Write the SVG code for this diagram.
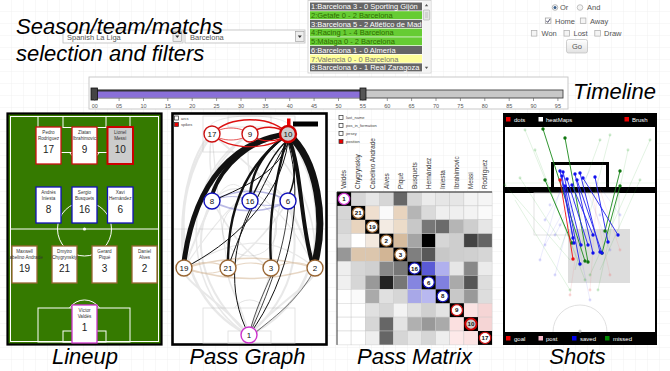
<svg xmlns="http://www.w3.org/2000/svg" width="670" height="371" viewBox="0 0 670 371">
<defs>
<pattern id="grid" width="12" height="12" patternUnits="userSpaceOnUse"><path d="M12 0V12H0" fill="none" stroke="#eeeeee" stroke-width="0.8"/></pattern>
<clipPath id="lbclip"><rect x="309" y="1" width="113" height="71"/></clipPath>
<clipPath id="fieldclip"><rect x="9" y="115" width="151" height="228"/></clipPath>
<linearGradient id="btn" x1="0" y1="0" x2="0" y2="1"><stop offset="0" stop-color="#ffffff"/><stop offset="1" stop-color="#e2e2e2"/></linearGradient>
</defs>
<style>
text{font-family:"Liberation Sans",Arial,sans-serif}
.big{font-size:22px;font-style:italic;fill:#000}
.ui{font-size:7.5px;fill:#555}
.li{font-size:7.5px}
.tk{font-size:5.5px;fill:#555;text-anchor:middle}
.fl{fill:none;stroke:#fff;stroke-width:1}
.card{fill:#fff;stroke-width:1.3}
.nm{font-size:4.6px;fill:#333;text-anchor:middle}
.num{font-size:10px;fill:#222;text-anchor:middle}
.pl{fill:none;stroke:#ddd;stroke-width:0.8}
.ga{fill:none;stroke:#999;opacity:0.22}
.bk{fill:none;stroke:#111}
.rd{fill:none;stroke:#d11}
.bl{fill:none;stroke:#7777cc;opacity:0.5}
.br{fill:none;stroke:#c49a6c;opacity:0.4}
.nd{fill:#fff;stroke-width:1.4}
.nn{font-size:8px;fill:#111;text-anchor:middle}
.lg{font-size:4px;fill:#444}
.cl{font-size:6.4px;fill:#333}
.dg{font-size:4.4px;fill:#111;text-anchor:middle;font-weight:bold}
.sl{font-size:6px;fill:#fff}
.sg{stroke:#1a8a1a;stroke-width:0.9}
.sb{stroke:#2222ee;stroke-width:0.9}
.sr{stroke:#ee1111;stroke-width:0.9}
.fg{stroke:#33aa33;stroke-width:0.7;opacity:0.2}
.fb{stroke:#4444ee;stroke-width:0.7;opacity:0.15}
.fp{stroke:#ee7777;stroke-width:0.7;opacity:0.2}
</style>
<rect width="670" height="371" fill="#fff"/>
<rect width="670" height="371" fill="url(#grid)"/>

<g id="selection">
<rect x="63" y="30" width="120" height="13" fill="#fff" stroke="#bbb" stroke-width="0.8"/>
<text x="67" y="39.5" class="ui" font-size="7">Spanish La Liga</text>
<rect x="173" y="31.5" width="8.5" height="10" fill="#eee" stroke="#999" stroke-width="0.6"/>
<path d="M175.3 35.5h4l-2 2.5z" fill="#333"/>
<rect x="185" y="30" width="120" height="13" fill="#fff" stroke="#bbb" stroke-width="0.8"/>
<text x="190" y="39.5" class="ui">Barcelona</text>
<rect x="295.5" y="31.5" width="8.5" height="10" fill="#eee" stroke="#999" stroke-width="0.6"/>
<path d="M297.8 35.5h4l-2 2.5z" fill="#333"/>
<text x="16" y="34" class="big">Season/team/matchs</text>
<text x="16" y="61" class="big">selection and filters</text>
</g>

<g id="matchlist">
<rect x="308" y="0.5" width="123" height="72.5" fill="#fff" stroke="#ccc" stroke-width="0.8"/>
<g clip-path="url(#lbclip)">
<rect x="310" y="2.5" width="112" height="8" fill="#666"/>
<rect x="310" y="11.2" width="112" height="8" fill="#66cc33"/>
<rect x="310" y="19.9" width="112" height="8" fill="#666"/>
<rect x="310" y="28.6" width="112" height="8" fill="#66cc33"/>
<rect x="310" y="37.3" width="112" height="8" fill="#66cc33"/>
<rect x="310" y="46" width="112" height="8" fill="#666"/>
<rect x="310" y="54.7" width="112" height="8" fill="#ffff99"/>
<rect x="310" y="63.4" width="112" height="8" fill="#666"/>
<text x="311" y="9.3" class="li" fill="#fff">1:Barcelona 3 - 0 Sporting Gijón</text>
<text x="311" y="18" class="li" fill="#2f6d00">2:Getafe 0 - 2 Barcelona</text>
<text x="311" y="26.7" class="li" fill="#fff">3:Barcelona 5 - 2 Atlético de Madrid</text>
<text x="311" y="35.4" class="li" fill="#2f6d00">4:Racing 1 - 4 Barcelona</text>
<text x="311" y="44.1" class="li" fill="#2f6d00">5:Málaga 0 - 2 Barcelona</text>
<text x="311" y="52.8" class="li" fill="#fff">6:Barcelona 1 - 0 Almería</text>
<text x="311" y="61.5" class="li" fill="#777">7:Valencia 0 - 0 Barcelona</text>
<text x="311" y="70.2" class="li" fill="#fff">8:Barcelona 6 - 1 Real Zaragoza</text>
</g>
<rect x="422.5" y="1" width="8" height="71.5" fill="#f4f4f4"/>
<path d="M424.8 6.3h3.4l-1.7-2.2z" fill="#555"/>
<rect x="423.3" y="10" width="6.4" height="10" rx="1" fill="#e6e6e6" stroke="#aaa" stroke-width="0.6"/>
<path d="M425 13h3M425 15h3M425 17h3" stroke="#999" stroke-width="0.5"/>
<path d="M424.8 66.8h3.4l-1.7 2.2z" fill="#555"/>
</g>

<g id="filters">
<circle cx="555" cy="7.5" r="2.8" fill="#fff" stroke="#999" stroke-width="0.7"/>
<circle cx="555" cy="7.5" r="1.5" fill="#3a5f8a"/>
<text x="560" y="10" class="ui">Or</text>
<circle cx="580" cy="7.5" r="2.8" fill="#f4f4f4" stroke="#aaa" stroke-width="0.7"/>
<text x="587" y="10" class="ui">And</text>
<rect x="545.3" y="18" width="5.6" height="5.6" fill="#fff" stroke="#999" stroke-width="0.7"/>
<path d="M546.3 20.8l1.4 1.6 2.4-3.4" fill="none" stroke="#335" stroke-width="0.9"/>
<text x="555" y="23.5" class="ui">Home</text>
<rect x="580.3" y="18" width="5.6" height="5.6" fill="#f4f4f4" stroke="#aaa" stroke-width="0.7"/>
<text x="590" y="23.5" class="ui">Away</text>
<rect x="531.3" y="30.5" width="5.6" height="5.6" fill="#f4f4f4" stroke="#aaa" stroke-width="0.7"/>
<text x="541.5" y="36" class="ui">Won</text>
<rect x="564" y="30.5" width="5.6" height="5.6" fill="#f4f4f4" stroke="#aaa" stroke-width="0.7"/>
<text x="573.5" y="36" class="ui">Lost</text>
<rect x="594.8" y="30.5" width="5.6" height="5.6" fill="#f4f4f4" stroke="#aaa" stroke-width="0.7"/>
<text x="604" y="36" class="ui">Draw</text>
<rect x="566.5" y="39.5" width="21" height="13.5" rx="2" fill="url(#btn)" stroke="#bbb" stroke-width="0.7"/>
<text x="577" y="49" class="ui" text-anchor="middle" fill="#444">Go</text>
</g>

<g id="timeline">
<rect x="89" y="77" width="479" height="32" fill="#fff" stroke="#c4c4c4" stroke-width="0.9"/>
<rect x="93" y="90" width="470" height="8" fill="#c8c8c8" stroke="#444" stroke-width="0.9"/>
<rect x="93" y="91" width="270" height="6.6" fill="#8a70d8"/>
<line x1="93" y1="90.6" x2="363" y2="90.6" stroke="#333" stroke-width="1.8"/>
<rect x="91" y="88" width="6.5" height="12" fill="#444" stroke="#111" stroke-width="0.8"/>
<rect x="360" y="88" width="6" height="12" fill="#555" stroke="#111" stroke-width="0.8"/>
<g stroke="#555" stroke-width="0.6">
<path d="M94.7 98v3M119.1 98v3M143.5 98v3M167.8 98v3M192.2 98v3M216.6 98v3M241 98v3M265.4 98v3M289.7 98v3M314.1 98v3M338.5 98v3M362.9 98v3M387.3 98v3M411.6 98v3M436 98v3M460.4 98v3M484.8 98v3M509.2 98v3M533.5 98v3M557.9 98v3"/>
</g>
<text x="94.7" y="107.5" class="tk">00</text><text x="119.1" y="107.5" class="tk">05</text><text x="143.5" y="107.5" class="tk">10</text><text x="167.8" y="107.5" class="tk">15</text><text x="192.2" y="107.5" class="tk">20</text><text x="216.6" y="107.5" class="tk">25</text><text x="241" y="107.5" class="tk">30</text><text x="265.4" y="107.5" class="tk">35</text><text x="289.7" y="107.5" class="tk">40</text><text x="314.1" y="107.5" class="tk">45</text><text x="338.5" y="107.5" class="tk">50</text><text x="362.9" y="107.5" class="tk">55</text><text x="387.3" y="107.5" class="tk">60</text><text x="411.6" y="107.5" class="tk">65</text><text x="436" y="107.5" class="tk">70</text><text x="460.4" y="107.5" class="tk">75</text><text x="484.8" y="107.5" class="tk">80</text><text x="509.2" y="107.5" class="tk">85</text><text x="533.5" y="107.5" class="tk">90</text><text x="557.9" y="107.5" class="tk">95</text>
<text x="573" y="99" class="big">Timeline</text>
</g>

<g id="lineup">
<rect x="7.5" y="113.5" width="154" height="231" fill="#357a00" stroke="#000" stroke-width="2.2"/>
<rect x="10.5" y="116.5" width="148" height="225" class="fl"/>
<rect x="38" y="116.5" width="92" height="36" class="fl"/>
<rect x="63" y="116.5" width="43" height="11" class="fl"/>
<path d="M69.5 152.5A18 18 0 0 0 99.5 152.5" class="fl"/>
<line x1="10.5" y1="229" x2="158.5" y2="229" class="fl"/>
<circle cx="84.5" cy="229" r="27" class="fl"/>
<circle cx="84.5" cy="229" r="1.6" fill="#fff"/>
<rect x="38" y="308" width="92" height="34" class="fl"/>
<rect x="63" y="331" width="43" height="11" class="fl"/>
<path d="M69.5 308A18 18 0 0 1 99.5 308" class="fl"/>
<g id="card17"><rect x="36" y="127" width="25" height="37" class="card" stroke="#cc1111"/><text x="48.5" y="134" class="nm">Pedro</text><text x="48.5" y="140" class="nm">Rodríguez</text><text x="48.5" y="153" class="num">17</text></g>
<g id="card9"><rect x="72" y="127" width="25" height="37" class="card" stroke="#cc1111"/><text x="84.5" y="134" class="nm">Zlatan</text><text x="84.5" y="140" class="nm">Ibrahimovic</text><text x="84.5" y="153" class="num">9</text></g>
<g id="card10"><rect x="107.5" y="127" width="25.5" height="37" fill="#cccccc" stroke="#cc0000" stroke-width="2"/><text x="120.2" y="134" class="nm">Lionel</text><text x="120.2" y="140" class="nm">Messi</text><text x="120.2" y="153" class="num">10</text></g>
<g id="card8"><rect x="36" y="187" width="25" height="36" class="card" stroke="#1111bb"/><text x="48.5" y="194" class="nm">Andrés</text><text x="48.5" y="200" class="nm">Iniesta</text><text x="48.5" y="213" class="num">8</text></g>
<g id="card16"><rect x="72" y="187" width="25" height="36" class="card" stroke="#1111bb"/><text x="84.5" y="194" class="nm">Sergio</text><text x="84.5" y="200" class="nm">Busquets</text><text x="84.5" y="213" class="num">16</text></g>
<g id="card6"><rect x="107.5" y="187" width="25.5" height="36" class="card" stroke="#1111bb"/><text x="120.2" y="194" class="nm">Xavi</text><text x="120.2" y="200" class="nm">Hernández</text><text x="120.2" y="213" class="num">6</text></g>
<g id="card19" clip-path="url(#fieldclip)"><rect x="12" y="246" width="25" height="37" class="card" stroke="#996633"/><text x="24.5" y="253" class="nm">Maxwell</text><text x="24.5" y="259" class="nm">Cabelino Andrade</text><text x="24.5" y="272" class="num">19</text></g>
<g id="card21"><rect x="52" y="246" width="25" height="37" class="card" stroke="#996633"/><text x="64.5" y="253" class="nm">Dmytro</text><text x="64.5" y="259" class="nm">Chygrynskiy</text><text x="64.5" y="272" class="num">21</text></g>
<g id="card3"><rect x="92" y="246" width="25" height="37" class="card" stroke="#996633"/><text x="104.5" y="253" class="nm">Gerard</text><text x="104.5" y="259" class="nm">Piqué</text><text x="104.5" y="272" class="num">3</text></g>
<g id="card2"><rect x="132" y="246" width="25" height="37" class="card" stroke="#996633"/><text x="144.5" y="253" class="nm">Daniel</text><text x="144.5" y="259" class="nm">Alves</text><text x="144.5" y="272" class="num">2</text></g>
<g id="card1"><rect x="72" y="305" width="25" height="38" class="card" stroke="#cc33cc"/><text x="84.5" y="312" class="nm">Víctor</text><text x="84.5" y="318" class="nm">Valdés</text><text x="84.5" y="331" class="num">1</text></g>
<text x="85" y="364" class="big" text-anchor="middle">Lineup</text>
</g>

<g id="passgraph">
<rect x="172.5" y="113.5" width="154" height="231" fill="#fff" stroke="#000" stroke-width="2.6"/>
<rect x="203" y="116" width="92" height="36" class="pl"/>
<rect x="228" y="116" width="43" height="11" class="pl"/>
<line x1="174" y1="229" x2="325" y2="229" class="pl"/>
<circle cx="249.5" cy="229" r="27" class="pl"/>
<rect x="203" y="308" width="92" height="35" class="pl"/>
<rect x="228" y="331" width="43" height="12" class="pl"/>
<path d="M234.5 308A18 18 0 0 1 264.5 308" class="pl"/>
<g id="connectors">
<g class="ga">
<path d="M184 268C175 190 200 140 212 134" stroke-width="2"/>
<path d="M184 268C190 180 240 140 250 134" stroke-width="1.5"/>
<path d="M315 268C320 190 270 140 250 134" stroke-width="1.5"/>
<path d="M315 268C300 200 230 150 212 134" stroke-width="1.2"/>
<path d="M249 335C175 300 165 200 212 134" stroke-width="2.5"/>
<path d="M249 335C325 300 335 200 288 134" stroke-width="2.5"/>
<path d="M249 335C185 300 172 180 250 134" stroke-width="1.5"/>
<path d="M249 335C200 290 190 240 212 201" stroke-width="2"/>
<path d="M249 335C300 290 300 240 288 201" stroke-width="2"/>
<path d="M249 335C220 300 180 280 184 268" stroke-width="2"/>
<path d="M249 335C280 300 320 280 315 268" stroke-width="2"/>
<path d="M249 335C240 300 225 280 228 268" stroke-width="1.5"/>
<path d="M249 335C260 300 270 280 271 268" stroke-width="1.5"/>
<path d="M212 201C200 230 190 250 184 268" stroke-width="2"/>
<path d="M288 201C300 230 310 250 315 268" stroke-width="2"/>
<path d="M212 201C230 230 240 250 271 268" stroke-width="1.5"/>
<path d="M288 201C270 230 250 250 228 268" stroke-width="1.5"/>
<path d="M212 134C205 170 218 190 212 201" stroke-width="1.5"/>
<path d="M250 134C243 170 257 190 250 201" stroke-width="1.5"/>
<path d="M212 134C240 160 270 180 288 201" stroke-width="1.5"/>
<path d="M184 268C230 240 270 230 315 268" stroke-width="1.2"/>
<path d="M184 268C230 200 260 170 288 201" stroke-width="1.2"/>
<path d="M315 268C280 200 240 170 212 201" stroke-width="1.2"/>
<path d="M228 268C220 220 215 170 212 134" stroke-width="1.2"/>
<path d="M271 268C275 220 285 170 288 201" stroke-width="1.2"/>
<path d="M184 268C210 200 230 160 250 201" stroke-width="1"/>
<path d="M315 268C290 200 270 160 250 201" stroke-width="1"/>
<path d="M212 134C190 110 310 110 288 134" stroke-width="1"/>
</g>
<g class="br">
<path d="M184 268C230 255 270 255 315 268" stroke-width="1.5"/>
<path d="M184 268C230 282 270 282 315 268" stroke-width="1.5"/>
<path d="M184 268C200 261 215 261 228 268" stroke-width="1.2"/>
<path d="M228 268C245 261 258 261 271 268" stroke-width="1.2"/>
<path d="M271 268C290 261 300 261 315 268" stroke-width="1.2"/>
<path d="M184 268C200 275 215 275 228 268" stroke-width="1"/>
</g>
<g class="bl">
<path d="M212 201C235 188 265 188 288 201" stroke-width="1.5"/>
<path d="M212 201C235 214 265 214 288 201" stroke-width="1.5"/>
<path d="M212 201C225 195 240 195 250 201" stroke-width="1"/>
<path d="M250 201C262 207 276 207 288 201" stroke-width="1"/>
</g>
<g class="bk">
<path d="M288 134C318 160 326 220 315 262" stroke-width="7"/>
<path d="M288 136C302 170 300 220 312 262" stroke-width="4"/>
<path d="M288 134C235 140 195 180 184 262" stroke-width="5"/>
<path d="M288 134C250 140 222 165 212 195" stroke-width="3.8"/>
<path d="M288 134C265 150 252 170 250 195" stroke-width="2.4"/>
<path d="M288 134C245 165 228 210 228 262" stroke-width="2.4"/>
<path d="M288 134C275 180 268 220 271 262" stroke-width="2.4"/>
<path d="M288 134C297 160 296 180 289 195" stroke-width="1.5"/>
<path d="M184 268C230 245 280 200 288 142" stroke-width="1"/>
<path d="M212 201C250 185 280 170 288 142" stroke-width="1"/>
<path d="M249 335C290 280 305 200 288 142" stroke-width="1"/>
<path d="M249 335C225 290 235 240 250 209" stroke-width="1"/>
<path d="M249 335C255 310 265 290 271 276" stroke-width="0.7"/>
<path d="M250 201C265 170 275 150 288 140" stroke-width="1.4"/>
<path d="M315 268C300 300 270 320 255 333" stroke-width="0.6"/>
<path d="M249 335C275 280 285 240 288 209" stroke-width="0.8"/>
<path d="M228 268C240 230 270 170 288 140" stroke-width="1"/>
</g>
<g class="rd">
<path d="M212 134C230 115 270 115 288 134" stroke-width="1.5"/>
<path d="M212 134C230 151 270 151 288 134" stroke-width="1.2"/>
<path d="M250 134C260 125 278 125 288 134" stroke-width="1.5"/>
<path d="M250 134C260 143 278 143 288 134" stroke-width="1.2"/>
<path d="M212 134C222 126 240 126 250 134" stroke-width="1" opacity="0.7"/>
<path d="M212 134C222 142 240 142 250 134" stroke-width="1" opacity="0.7"/>
</g>
</g>
<rect x="174.5" y="116" width="4" height="4" fill="#fff" stroke="#333" stroke-width="0.7"/>
<text x="181" y="119.5" class="lg">arcs</text>
<rect x="174.5" y="122.5" width="4" height="4" fill="#e00" stroke="#333" stroke-width="0.7"/>
<text x="181" y="126" class="lg">spikes</text>
<rect x="293" y="121.5" width="25" height="5" fill="#000"/>
<rect x="287" y="118.5" width="3.5" height="9" fill="#e00"/>
<g id="n17"><circle cx="212" cy="134" r="8" class="nd" stroke="#cc1111"/><text x="212" y="137" class="nn">17</text></g>
<g id="n9"><circle cx="250" cy="134" r="8" class="nd" stroke="#cc1111"/><text x="250" y="137" class="nn">9</text></g>
<g id="n10"><circle cx="288" cy="134" r="8" fill="#ccc" stroke="#cc0000" stroke-width="2.4"/><text x="288" y="137" class="nn">10</text></g>
<g id="n8"><circle cx="212" cy="201" r="8" class="nd" stroke="#1111bb"/><text x="212" y="204" class="nn">8</text></g>
<g id="n16"><circle cx="250" cy="201" r="8" class="nd" stroke="#1111bb"/><text x="250" y="204" class="nn">16</text></g>
<g id="n6"><circle cx="288" cy="201" r="8" class="nd" stroke="#1111bb"/><text x="288" y="204" class="nn">6</text></g>
<g id="n19"><circle cx="184" cy="268" r="8" class="nd" stroke="#996633"/><text x="184" y="271" class="nn">19</text></g>
<g id="n21"><circle cx="228" cy="268" r="8" class="nd" stroke="#996633"/><text x="228" y="271" class="nn">21</text></g>
<g id="n3"><circle cx="271" cy="268" r="8" class="nd" stroke="#996633"/><text x="271" y="271" class="nn">3</text></g>
<g id="n2"><circle cx="315" cy="268" r="8" class="nd" stroke="#996633"/><text x="315" y="271" class="nn">2</text></g>
<g id="n1"><circle cx="249" cy="335" r="8" class="nd" stroke="#cc33cc"/><text x="249" y="338" class="nn">1</text></g>
<text x="247.5" y="364" class="big" text-anchor="middle">Pass Graph</text>
</g>

<g id="passmatrix">
<rect x="339" y="115.5" width="4" height="4" fill="#fff" stroke="#333" stroke-width="0.7"/><text x="346" y="119" class="lg">last_name</text>
<rect x="339" y="123.5" width="4" height="4" fill="#fff" stroke="#333" stroke-width="0.7"/><text x="346" y="127" class="lg">pos_in_formation</text>
<rect x="339" y="131.5" width="4" height="4" fill="#fff" stroke="#333" stroke-width="0.7"/><text x="346" y="135" class="lg">jersey</text>
<rect x="339" y="139.5" width="4" height="4" fill="#e00" stroke="#333" stroke-width="0.7"/><text x="346" y="143" class="lg">position</text>
<g class="cl">
<text transform="translate(346.3,189) rotate(-90)">Valdés</text>
<text transform="translate(360.4,189) rotate(-90)">Chygrynskiy</text>
<text transform="translate(374.5,189) rotate(-90)">Cabelino Andrade</text>
<text transform="translate(388.6,189) rotate(-90)">Alves</text>
<text transform="translate(402.7,189) rotate(-90)">Piqué</text>
<text transform="translate(416.8,189) rotate(-90)">Busquets</text>
<text transform="translate(430.9,189) rotate(-90)">Hernández</text>
<text transform="translate(445,189) rotate(-90)">Iniesta</text>
<text transform="translate(459.1,189) rotate(-90)">Ibrahimovic</text>
<text transform="translate(473.2,189) rotate(-90)">Messi</text>
<text transform="translate(487.3,189) rotate(-90)">Rodríguez</text>
</g>
<g transform="translate(337,192) scale(1.41,1.39)" stroke="#c8c8c8" stroke-width="0.3">
<rect x="10" y="0" width="10" height="10" fill="#d6d6d6"/><rect x="20" y="0" width="10" height="10" fill="#e6e6e6"/><rect x="30" y="0" width="10" height="10" fill="#d6d6d6"/><rect x="40" y="0" width="10" height="10" fill="#676767"/><rect x="50" y="0" width="10" height="10" fill="#d6d6d6"/><rect x="60" y="0" width="10" height="10" fill="#ebebeb"/><rect x="70" y="0" width="10" height="10" fill="#e6e6e6"/><rect x="80" y="0" width="10" height="10" fill="#e6e6e6"/><rect x="90" y="0" width="10" height="10" fill="#f3f3f3"/><rect x="100" y="0" width="10" height="10" fill="#f5f5f5"/>
<rect x="0" y="10" width="10" height="10" fill="#d6d6d6"/><rect x="20" y="10" width="10" height="10" fill="#efdfcf"/><rect x="30" y="10" width="10" height="10" fill="#fafafa"/><rect x="40" y="10" width="10" height="10" fill="#e8d4be"/><rect x="50" y="10" width="10" height="10" fill="#b5b5b5"/><rect x="60" y="10" width="10" height="10" fill="#dadada"/><rect x="70" y="10" width="10" height="10" fill="#efefef"/><rect x="80" y="10" width="10" height="10" fill="#efefef"/><rect x="90" y="10" width="10" height="10" fill="#f3f3f3"/><rect x="100" y="10" width="10" height="10" fill="#fafafa"/>
<rect x="0" y="20" width="10" height="10" fill="#d6d6d6"/><rect x="10" y="20" width="10" height="10" fill="#e8d4be"/><rect x="30" y="20" width="10" height="10" fill="#f3ebe3"/><rect x="40" y="20" width="10" height="10" fill="#ecdcc9"/><rect x="50" y="20" width="10" height="10" fill="#c8c8c8"/><rect x="60" y="20" width="10" height="10" fill="#777"/><rect x="70" y="20" width="10" height="10" fill="#6b6b6b"/><rect x="80" y="20" width="10" height="10" fill="#b5b5b5"/><rect x="90" y="20" width="10" height="10" fill="#cecece"/><rect x="100" y="20" width="10" height="10" fill="#e6e6e6"/>
<rect x="0" y="30" width="10" height="10" fill="#e0e0e0"/><rect x="10" y="30" width="10" height="10" fill="#fff"/><rect x="20" y="30" width="10" height="10" fill="#f2e8de"/><rect x="40" y="30" width="10" height="10" fill="#d6bc9e"/><rect x="50" y="30" width="10" height="10" fill="#a5a5a5"/><rect x="60" y="30" width="10" height="10" fill="#000"/><rect x="70" y="30" width="10" height="10" fill="#d6d6d6"/><rect x="80" y="30" width="10" height="10" fill="#cecece"/><rect x="90" y="30" width="10" height="10" fill="#434343"/><rect x="100" y="30" width="10" height="10" fill="#646464"/>
<rect x="0" y="40" width="10" height="10" fill="#979797"/><rect x="10" y="40" width="10" height="10" fill="#dcc6ad"/><rect x="20" y="40" width="10" height="10" fill="#dcc6ad"/><rect x="30" y="40" width="10" height="10" fill="#d2b595"/><rect x="50" y="40" width="10" height="10" fill="#7f7f7f"/><rect x="60" y="40" width="10" height="10" fill="#585858"/><rect x="70" y="40" width="10" height="10" fill="#c8c8c8"/><rect x="80" y="40" width="10" height="10" fill="#cecece"/><rect x="90" y="40" width="10" height="10" fill="#d0d0d0"/><rect x="100" y="40" width="10" height="10" fill="#d6d6d6"/>
<rect x="0" y="50" width="10" height="10" fill="#eee"/><rect x="10" y="50" width="10" height="10" fill="#d6d6d6"/><rect x="20" y="50" width="10" height="10" fill="#d0d0d0"/><rect x="30" y="50" width="10" height="10" fill="#888"/><rect x="40" y="50" width="10" height="10" fill="#777"/><rect x="60" y="50" width="10" height="10" fill="#5a5ad6"/><rect x="70" y="50" width="10" height="10" fill="#b0b0ee"/><rect x="80" y="50" width="10" height="10" fill="#e6e6e6"/><rect x="90" y="50" width="10" height="10" fill="#888"/><rect x="100" y="50" width="10" height="10" fill="#ebebeb"/>
<rect x="0" y="60" width="10" height="10" fill="#f0f0f0"/><rect x="10" y="60" width="10" height="10" fill="#d6d6d6"/><rect x="20" y="60" width="10" height="10" fill="#999"/><rect x="30" y="60" width="10" height="10" fill="#222"/><rect x="40" y="60" width="10" height="10" fill="#777"/><rect x="50" y="60" width="10" height="10" fill="#8585e0"/><rect x="70" y="60" width="10" height="10" fill="#8080e0"/><rect x="80" y="60" width="10" height="10" fill="#aaa"/><rect x="90" y="60" width="10" height="10" fill="#555"/><rect x="100" y="60" width="10" height="10" fill="#ddd"/>
<rect x="0" y="70" width="10" height="10" fill="#fff"/><rect x="10" y="70" width="10" height="10" fill="#fafafa"/><rect x="20" y="70" width="10" height="10" fill="#aaa"/><rect x="30" y="70" width="10" height="10" fill="#e0e0e0"/><rect x="40" y="70" width="10" height="10" fill="#d6d6d6"/><rect x="50" y="70" width="10" height="10" fill="#a8a8e8"/><rect x="60" y="70" width="10" height="10" fill="#b8b8f0"/><rect x="80" y="70" width="10" height="10" fill="#c8c8c8"/><rect x="90" y="70" width="10" height="10" fill="#999"/><rect x="100" y="70" width="10" height="10" fill="#ddd"/>
<rect x="0" y="80" width="10" height="10" fill="#fff"/><rect x="10" y="80" width="10" height="10" fill="#fff"/><rect x="20" y="80" width="10" height="10" fill="#e0e0e0"/><rect x="30" y="80" width="10" height="10" fill="#d6d6d6"/><rect x="40" y="80" width="10" height="10" fill="#f3f3f3"/><rect x="50" y="80" width="10" height="10" fill="#e0e0e0"/><rect x="60" y="80" width="10" height="10" fill="#d0d0d0"/><rect x="70" y="80" width="10" height="10" fill="#e3e3e3"/><rect x="90" y="80" width="10" height="10" fill="#fbe3e3"/><rect x="100" y="80" width="10" height="10" fill="#f5d5d5"/>
<rect x="0" y="90" width="10" height="10" fill="#fff"/><rect x="10" y="90" width="10" height="10" fill="#fff"/><rect x="20" y="90" width="10" height="10" fill="#d6d6d6"/><rect x="30" y="90" width="10" height="10" fill="#666"/><rect x="40" y="90" width="10" height="10" fill="#e3e3e3"/><rect x="50" y="90" width="10" height="10" fill="#b0b0b0"/><rect x="60" y="90" width="10" height="10" fill="#999"/><rect x="70" y="90" width="10" height="10" fill="#aaa"/><rect x="80" y="90" width="10" height="10" fill="#fbe0e0"/><rect x="100" y="90" width="10" height="10" fill="#f5d5d5"/>
<rect x="0" y="100" width="10" height="10" fill="#fff"/><rect x="10" y="100" width="10" height="10" fill="#fff"/><rect x="20" y="100" width="10" height="10" fill="#eee"/><rect x="30" y="100" width="10" height="10" fill="#666"/><rect x="40" y="100" width="10" height="10" fill="#d6d6d6"/><rect x="50" y="100" width="10" height="10" fill="#e6e6e6"/><rect x="60" y="100" width="10" height="10" fill="#d6d6d6"/><rect x="70" y="100" width="10" height="10" fill="#eee"/><rect x="80" y="100" width="10" height="10" fill="#fde9e9"/><rect x="90" y="100" width="10" height="10" fill="#fbe3e3"/>
<g stroke="none" fill="#000">
<rect x="0" y="0" width="10" height="10"/><rect x="10" y="10" width="10" height="10"/><rect x="20" y="20" width="10" height="10"/><rect x="30" y="30" width="10" height="10"/><rect x="40" y="40" width="10" height="10"/><rect x="50" y="50" width="10" height="10"/><rect x="60" y="60" width="10" height="10"/><rect x="70" y="70" width="10" height="10"/><rect x="80" y="80" width="10" height="10"/><rect x="90" y="90" width="10" height="10"/><rect x="100" y="100" width="10" height="10"/>
</g>
<line x1="0" y1="0" x2="110" y2="0" stroke="#222" stroke-width="0.8"/>
<line x1="0" y1="0" x2="0" y2="110" stroke="#222" stroke-width="0.6"/>
<g stroke-width="0.9" fill="#fff">
<circle cx="5" cy="5" r="4" stroke="#cc33cc"/><circle cx="15" cy="15" r="4" stroke="#996633"/><circle cx="25" cy="25" r="4" stroke="#996633"/><circle cx="35" cy="35" r="4" stroke="#996633"/><circle cx="45" cy="45" r="4" stroke="#996633"/><circle cx="55" cy="55" r="4" stroke="#1111bb"/><circle cx="65" cy="65" r="4" stroke="#1111bb"/><circle cx="75" cy="75" r="4" stroke="#1111bb"/><circle cx="85" cy="85" r="4" stroke="#cc1111"/><circle cx="95" cy="95" r="4" stroke="#cc0000" fill="#ccc" stroke-width="1.4"/><circle cx="105" cy="105" r="4" stroke="#cc1111"/>
</g>
<g stroke="none">
<text x="5" y="6.6" class="dg">1</text><text x="15" y="16.6" class="dg">21</text><text x="25" y="26.6" class="dg">19</text><text x="35" y="36.6" class="dg">2</text><text x="45" y="46.6" class="dg">3</text><text x="55" y="56.6" class="dg">16</text><text x="65" y="66.6" class="dg">6</text><text x="75" y="76.6" class="dg">8</text><text x="85" y="86.6" class="dg">9</text><text x="95" y="96.6" class="dg">10</text><text x="105" y="106.6" class="dg">17</text>
</g>
</g>
<text x="414.5" y="364" class="big" text-anchor="middle">Pass Matrix</text>
</g>

<g id="shots">
<rect x="503" y="113" width="154" height="232" fill="#000"/>
<rect x="505" y="127" width="150" height="60" fill="#fff"/>
<rect x="505" y="193" width="150" height="139" fill="#fff"/>
<rect x="552.5" y="163.5" width="55" height="25" fill="none" stroke="#000" stroke-width="3"/>
<rect x="534" y="193" width="85" height="42" fill="none" stroke="#ddd" stroke-width="0.8"/>
<rect x="568" y="229" width="62" height="54" fill="#ddd"/>
<path d="M553 332A27 27 0 0 1 607 332" fill="none" stroke="#ddd" stroke-width="0.9"/>
<circle cx="580" cy="331" r="1.6" fill="#ccc"/>
<g fill="none">
<line x1="505" y1="183" x2="655" y2="183" stroke="#33aa33" stroke-width="0.6" opacity="0.15"/>
<path d="M525 130L580 265M610 135L575 270M650 140L590 275M505 185L570 260M640 180L600 270M520 178L560 240M600 140L560 250M535 150L585 280M628 150L598 290M515 200L570 290" class="fg"/>
<path d="M570 175L545 220M590 170L555 235M560 190L540 260M585 185L610 250M575 190L545 245M595 180L620 215M565 180L590 300M580 178L555 275" class="fb"/>
<path d="M590 185L610 275M598 178L590 290M585 190L570 295M600 190L620 250" class="fp"/>
<path d="M543 129L585 261M565 138L588 262M545 180L572 243M620 171L605 231M620 186L602 253" class="sg"/>
<path d="M560 171L574 243M563 172L581 245M575 174L593 253M580 173L600 252M567 179L588 245M565 186L580 264M577 180L602 253M595 177L608 242M562 176L573 238M572 185L593 235M583 178L618 235" class="sb"/>
<path d="M560 180L573 259" class="sr"/>
</g>
<g fill="#33aa33" opacity="0.25">
<circle cx="525" cy="130" r="1.4"/><circle cx="610" cy="135" r="1.4"/><circle cx="650" cy="140" r="1.4"/><circle cx="505" cy="185" r="1.4"/><circle cx="640" cy="180" r="1.4"/><circle cx="520" cy="178" r="1.4"/><circle cx="600" cy="140" r="1.4"/><circle cx="535" cy="150" r="1.4"/><circle cx="628" cy="150" r="1.4"/><circle cx="580" cy="265" r="1.4"/><circle cx="590" cy="275" r="1.4"/><circle cx="598" cy="290" r="1.4"/><circle cx="570" cy="290" r="1.4"/><circle cx="585" cy="280" r="1.4"/>
</g>
<g fill="#4444ee" opacity="0.2">
<circle cx="545" cy="220" r="1.4"/><circle cx="555" cy="235" r="1.4"/><circle cx="540" cy="260" r="1.4"/><circle cx="610" cy="250" r="1.4"/><circle cx="545" cy="245" r="1.4"/><circle cx="620" cy="215" r="1.4"/><circle cx="590" cy="300" r="1.4"/><circle cx="555" cy="275" r="1.4"/><circle cx="550" cy="205" r="1.4"/><circle cx="560" cy="225" r="1.4"/><circle cx="600" cy="215" r="1.4"/>
</g>
<g fill="#ee7777" opacity="0.3">
<circle cx="610" cy="275" r="1.4"/><circle cx="590" cy="290" r="1.4"/><circle cx="570" cy="295" r="1.4"/><circle cx="620" cy="250" r="1.4"/>
</g>
<g fill="#117711">
<circle cx="543" cy="129" r="1.7"/><circle cx="565" cy="138" r="1.7"/><circle cx="545" cy="180" r="1.7"/><circle cx="620" cy="171" r="1.7"/><circle cx="620" cy="186" r="1.7"/>
<circle cx="585" cy="261" r="1.7"/><circle cx="588" cy="262" r="1.7"/><circle cx="572" cy="243" r="1.7"/><circle cx="605" cy="231" r="1.7"/><circle cx="602" cy="253" r="1.7"/>
</g>
<g fill="#1111ee">
<circle cx="560" cy="171" r="1.7"/><circle cx="563" cy="172" r="1.7"/><circle cx="575" cy="174" r="1.7"/><circle cx="580" cy="173" r="1.7"/><circle cx="567" cy="179" r="1.7"/><circle cx="565" cy="186" r="1.7"/><circle cx="577" cy="180" r="1.7"/><circle cx="595" cy="177" r="1.7"/><circle cx="562" cy="176" r="1.7"/><circle cx="572" cy="185" r="1.7"/><circle cx="583" cy="178" r="1.7"/>
<circle cx="574" cy="243" r="1.7"/><circle cx="581" cy="245" r="1.7"/><circle cx="593" cy="253" r="1.7"/><circle cx="600" cy="252" r="1.7"/><circle cx="588" cy="245" r="1.7"/><circle cx="580" cy="264" r="1.7"/><circle cx="602" cy="253" r="1.7"/><circle cx="608" cy="242" r="1.7"/><circle cx="573" cy="238" r="1.7"/><circle cx="593" cy="235" r="1.7"/><circle cx="618" cy="235" r="1.7"/>
</g>
<g fill="#ee1111"><circle cx="560" cy="180" r="1.7"/><circle cx="573" cy="259" r="1.7"/></g>
<rect x="506" y="117" width="4.5" height="4.5" fill="#e00"/><text x="514" y="121.5" class="sl">dots</text>
<rect x="538.5" y="117" width="4.5" height="4.5" fill="#fff"/><text x="546" y="121.5" class="sl">heatMaps</text>
<rect x="624.5" y="117" width="4.5" height="4.5" fill="#e00"/><text x="632" y="121.5" class="sl">Brush</text>
<rect x="506" y="336" width="4.5" height="4.5" fill="#e00"/><text x="514" y="340.5" class="sl">goal</text>
<rect x="538.5" y="336" width="4.5" height="4.5" fill="#f6b8c8"/><text x="546" y="340.5" class="sl">post</text>
<rect x="572" y="336" width="4.5" height="4.5" fill="#00e"/><text x="580" y="340.5" class="sl">saved</text>
<rect x="605" y="336" width="4.5" height="4.5" fill="#080"/><text x="613" y="340.5" class="sl">missed</text>
<text x="577.5" y="364" class="big" text-anchor="middle">Shots</text>
</g>
</svg>
